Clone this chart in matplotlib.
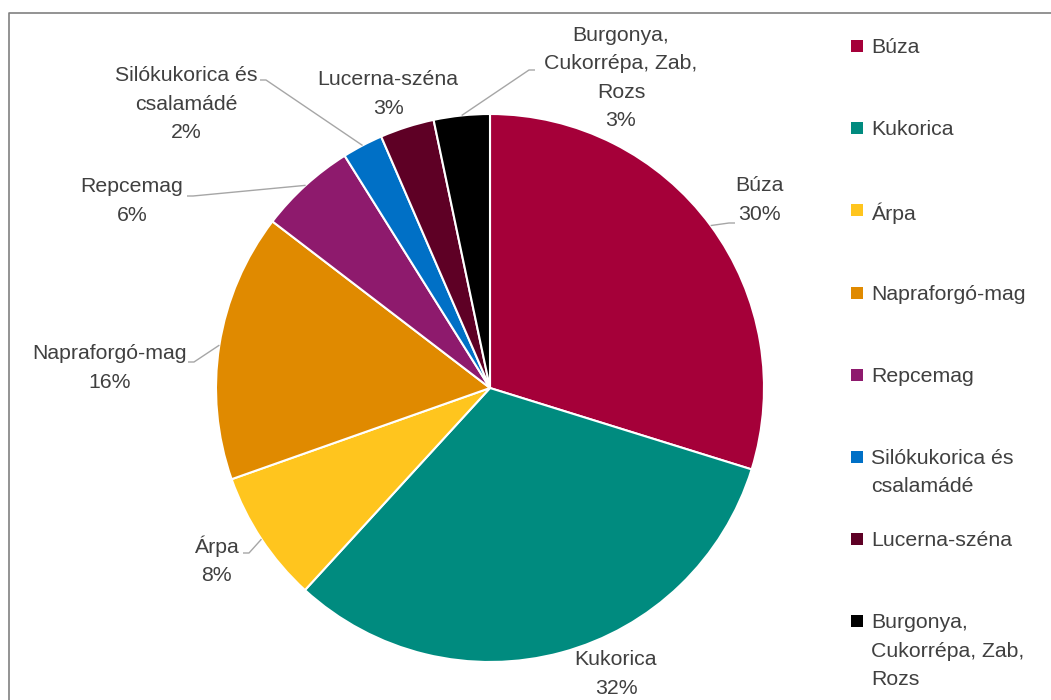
import matplotlib
matplotlib.use("Agg")
import matplotlib.pyplot as plt
import numpy as np

# ---- data ----
categories = ["Búza", "Kukorica", "Árpa", "Napraforgó-mag", "Repcemag",
              "Silókukorica és\ncsalamádé", "Lucerna-széna",
              "Burgonya,\nCukorrépa, Zab,\nRozs"]
shares = [29.8, 32.0, 7.8, 15.8, 5.7, 2.4, 3.2, 3.3]
colors = ["#A50039", "#008B7F", "#FFC51E", "#E08A00", "#8E1A6D",
          "#0070C6", "#5E0025", "#000000"]

# ---- layout (pixels, origin top-left) ----
W, H = 1051, 700
center = (490, 388)
radius = 274
label_pos = [(759, 200), (616, 674), (216, 560), (110, 368), (132, 201),
             (186, 104), (388, 94), (621, 78)]
leader_start = [(735, 223), None, (243, 553), (188, 362), (187, 196),
                (260, 80), None, (535, 70)]
TXT = "#404040"
FONT = "Liberation Sans"
FS = 15.3
LS = 1.62

fig = plt.figure(figsize=(W / 100, H / 100), dpi=100)
ax = fig.add_axes([0, 0, 1, 1])
ax.set_xlim(0, W)
ax.set_ylim(0, H)
ax.set_aspect("equal")
ax.axis("off")

cx, cy = center[0], H - center[1]
wedges, _ = ax.pie(shares, colors=colors, startangle=90, counterclock=False,
                   center=(cx, cy), radius=radius,
                   wedgeprops=dict(edgecolor="white", linewidth=1.5))
ax.set_xlim(0, W)
ax.set_ylim(0, H)

for i, (w, cat, val) in enumerate(zip(wedges, categories, shares)):
    lx, ly = label_pos[i]
    ax.text(lx, H - ly, f"{cat}\n{round(val)}%", ha="center", va="center",
            multialignment="center", fontsize=FS, color=TXT, family=FONT,
            linespacing=LS)
    if leader_start[i] is not None:
        mid = np.deg2rad((w.theta1 + w.theta2) / 2)
        ex, ey = cx + radius * np.cos(mid), cy + radius * np.sin(mid)
        sx, sy = leader_start[i][0], H - leader_start[i][1]
        dx = 6 if ex > sx else -6
        ax.plot([sx, sx + dx, ex], [sy, sy, ey], color="#A6A6A6", lw=1,
                solid_capstyle="butt")

# ---- legend (Excel-like: marker aligned with the first text line) ----
leg_x, leg_y0, leg_step = 857, 46, 82.2
for i, (cat, col) in enumerate(zip(categories, colors)):
    y = leg_y0 + i * leg_step
    ax.scatter([leg_x], [H - y], marker="s", s=75, color=col, linewidths=0)
    ax.text(leg_x + 14, H - y + 8, cat, ha="left", va="top",
            fontsize=FS, color=TXT, family=FONT, linespacing=LS)

# ---- chart border (right/bottom edges off-canvas) ----
ax.plot([9, 9, W + 5], [-5, H - 13, H - 13], color="#808080", lw=1.2,
        clip_on=False)

fig.savefig("out.png", dpi=100)
